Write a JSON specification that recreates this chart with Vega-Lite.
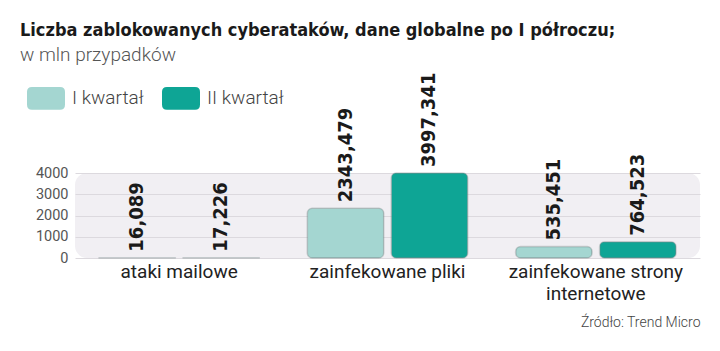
{
  "$schema": "https://vega.github.io/schema/vega-lite/v6.json",
  "width": 625,
  "height": 85,
  "autosize": {"type": "none"},
  "padding": {"left": 75, "top": 173, "right": 20, "bottom": 93},
  "background": "white",
  "title": {
    "text": "Liczba zablokowanych cyberataków, dane globalne po I półroczu;",
    "subtitle": "w mln przypadków",
    "anchor": "start",
    "frame": "group",
    "dx": -55,
    "dy": -4,
    "font": "DejaVu Sans Condensed",
    "fontSize": 18,
    "fontWeight": "bold",
    "color": "#1a1a1a",
    "subtitleFont": "Roboto",
    "subtitleFontSize": 19,
    "subtitleFontWeight": 300,
    "subtitleColor": "#555555",
    "subtitlePadding": 6
  },
  "config": {
    "locale": {"number": {"decimal": ",", "thousands": "", "grouping": [3], "currency": ["", ""]}},
    "view": {"fill": "#f1eff3", "stroke": null, "cornerRadius": 12}
  },
  "data": {
    "values": [
      {"kategoria": "ataki mailowe", "kwartal": "I kwartał", "wartosc": 16.089},
      {"kategoria": "ataki mailowe", "kwartal": "II kwartał", "wartosc": 17.226},
      {"kategoria": "zainfekowane pliki", "kwartal": "I kwartał", "wartosc": 2343.479},
      {"kategoria": "zainfekowane pliki", "kwartal": "II kwartał", "wartosc": 3997.341},
      {"kategoria": "zainfekowane strony internetowe", "kwartal": "I kwartał", "wartosc": 535.451},
      {"kategoria": "zainfekowane strony internetowe", "kwartal": "II kwartał", "wartosc": 764.523}
    ]
  },
  "encoding": {
    "x": {
      "field": "kategoria",
      "type": "nominal",
      "sort": null,
      "scale": {"paddingInner": 0.23, "paddingOuter": 0.115},
      "axis": {
        "title": "Źródło: Trend Micro",
        "titleAnchor": "end",
        "titleAlign": "right",
        "titleFont": "Roboto",
        "titleFontSize": 14,
        "titleFontWeight": 300,
        "titleColor": "#444444",
        "titlePadding": 12,
        "labelAngle": 0,
        "labelFont": "Roboto",
        "labelFontSize": 19,
        "labelColor": "#222222",
        "labelPadding": 4,
        "labelLineHeight": 22,
        "labelExpr": "datum.label == 'zainfekowane strony internetowe' ? ['zainfekowane strony', 'internetowe'] : datum.label",
        "domain": false,
        "ticks": false,
        "grid": false
      }
    },
    "xOffset": {
      "field": "kwartal",
      "type": "nominal",
      "scale": {"paddingInner": 0.09, "paddingOuter": 0}
    },
    "y": {
      "field": "wartosc",
      "type": "quantitative",
      "scale": {"domain": [0, 4000], "nice": false},
      "axis": {
        "title": null,
        "values": [0, 1000, 2000, 3000, 4000],
        "format": "d",
        "labelFont": "Roboto",
        "labelFontSize": 14.5,
        "labelColor": "#555555",
        "labelPadding": 7,
        "domain": false,
        "ticks": false,
        "gridColor": "#dcd9de",
        "gridWidth": 1
      }
    }
  },
  "layer": [
    {
      "mark": {"type": "bar", "cornerRadius": 5, "stroke": "#7a8a8a", "strokeOpacity": 0.35, "strokeWidth": 1.5},
      "encoding": {
        "color": {
          "field": "kwartal",
          "type": "nominal",
          "scale": {"domain": ["I kwartał", "II kwartał"], "range": ["#a4d6d1", "#0ea595"]},
          "legend": {
            "title": null,
            "orient": "none",
            "legendX": -48,
            "legendY": -94,
            "direction": "horizontal",
            "symbolType": "M-0.74,-0.6 L0.74,-0.6 Q1,-0.6 1,-0.34 L1,0.34 Q1,0.6 0.74,0.6 L-0.74,0.6 Q-1,0.6 -1,0.34 L-1,-0.34 Q-1,-0.6 -0.74,-0.6 Z",
            "symbolSize": 1444,
            "symbolStrokeWidth": 0,
            "symbolOpacity": 1,
            "labelFont": "Roboto",
            "labelFontSize": 19,
            "labelFontWeight": 300,
            "labelColor": "#444444",
            "labelOffset": 7,
            "columnPadding": 18
          }
        }
      }
    },
    {
      "mark": {"type": "text", "angle": 270, "align": "left", "baseline": "middle", "dx": 6, "font": "DejaVu Sans Condensed", "fontSize": 20, "fontWeight": "bold", "color": "#1a1a1a"},
      "encoding": {
        "text": {"field": "wartosc", "type": "quantitative", "format": ".3f"}
      }
    }
  ]
}
